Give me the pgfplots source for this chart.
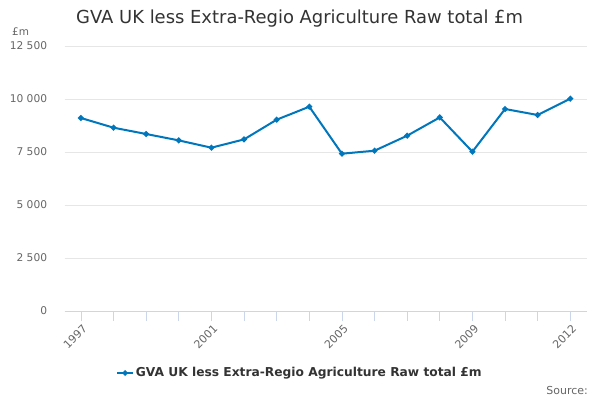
\documentclass[border=0pt]{standalone}
\usepackage{fontspec}
\setmainfont{DejaVu Sans}
\usepackage{pgfplots}
\pgfplotsset{compat=1.18}
\definecolor{series}{RGB}{0,119,189}
\definecolor{gridc}{RGB}{230,230,230}
\definecolor{axisc}{RGB}{204,214,235}
\definecolor{labc}{RGB}{102,102,102}
\definecolor{titc}{RGB}{51,51,51}
\begin{document}
\begin{tikzpicture}
\path[use as bounding box, fill=white] (0,0) rectangle (600bp,400bp);
\begin{axis}[
  at={(64.6bp,89bp)}, anchor=south west,
  scale only axis, width=522bp, height=265bp,
  xmin=1996.5, xmax=2012.5, ymin=0, ymax=12500,
  axis x line*=bottom, axis y line*=left,
  x axis line style={axisc, line width=0.8pt, -},
  y axis line style={draw=none},
  xtick={1997,2001,2005,2009,2012},
  minor xtick={1998,1999,2000,2002,2003,2004,2006,2007,2008,2010,2011},
  xticklabels={1997,2001,2005,2009,2012},
  xtick style={axisc, line width=0.8pt},
  minor x tick style={axisc, line width=0.8pt},
  ytick style={draw=none},
  tick align=outside, major tick length=10bp, minor tick length=10bp,
  xticklabel style={rotate=45, anchor=north east, font=\fontsize{11}{12}\selectfont, text=labc, inner sep=1pt, yshift=-1.5bp},
  ytick={0,2500,5000,7500,10000,12500},
  yticklabels={0,2 500,5 000,7 500,10 000,12 500},
  scaled y ticks=false,
  ymajorgrids, grid style={gridc, line width=0.8pt},
  yticklabel style={font=\fontsize{10.7}{12}\selectfont, text=labc, anchor=east, xshift=-4bp},
  legend style={at={(0.451,-0.234)}, anchor=center, draw=none, fill=none,
    font=\fontsize{12.3}{14}\selectfont\bfseries, text=titc,
    legend cell align=left},
  legend image code/.code={\draw[series, line width=2bp] (0cm,0cm) -- (0.55cm,0cm); \fill[series] (0.275cm,0cm) circle (1.6pt);},
  clip=false,
]
\addplot[series, line width=2bp, mark=*, mark size=1.8pt] coordinates {
(1997,9104) (1998,8646) (1999,8349) (2000,8047) (2001,7703) (2002,8094)
(2003,9024) (2004,9637) (2005,7420) (2006,7561) (2007,8269) (2008,9132)
(2009,7514) (2010,9528) (2011,9245) (2012,10014)
};
\addlegendentry{GVA UK less Extra-Regio Agriculture Raw total £m}
\end{axis}
\node[anchor=base west, inner sep=0, text=titc, font=\fontsize{18}{20}\selectfont] at (76bp,376bp) {GVA UK less Extra-Regio Agriculture Raw total £m};
\node[anchor=base west, inner sep=0, text=labc, font=\fontsize{10.5}{12}\selectfont] at (12bp,364bp) {£m};
\node[anchor=base east, inner sep=0, text=labc, font=\fontsize{11}{13}\selectfont] at (588bp,6bp) {Source:};
\end{tikzpicture}
\end{document}
